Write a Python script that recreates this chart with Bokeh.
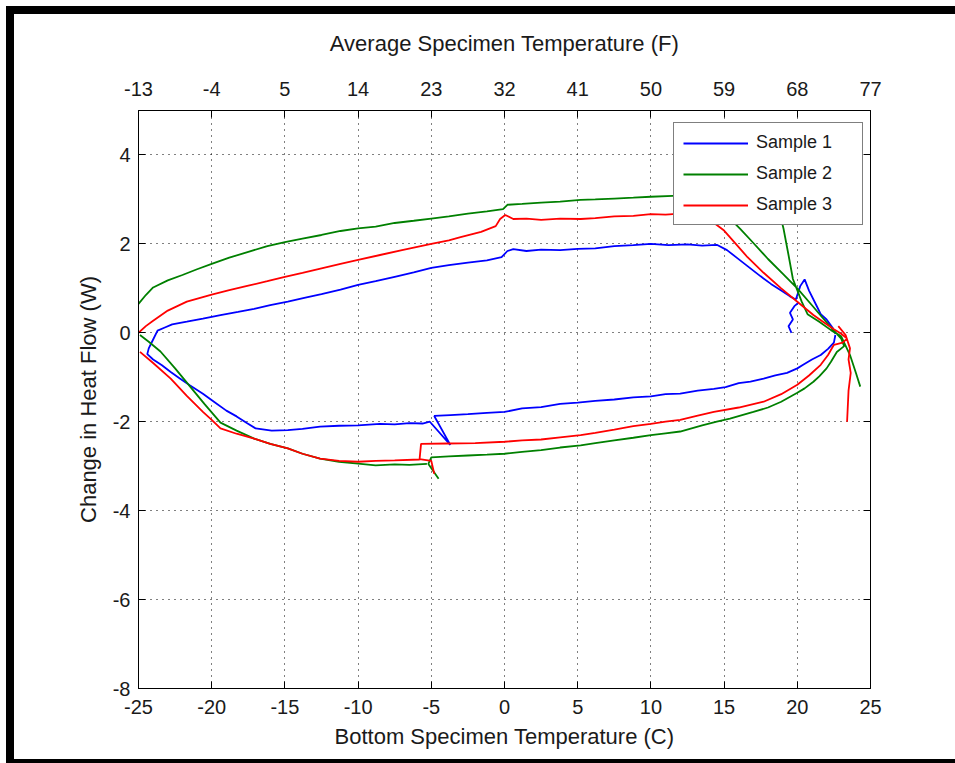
import numpy as np
from bokeh.plotting import figure
from bokeh.layouts import column, row
from bokeh.models import (LinearAxis, FixedTicker, Range1d, Legend, LegendItem, Div)
from bokeh.embed import file_html
from bokeh.resources import INLINE

nan = float("nan")

# ---------------- data ----------------
x_ticks = [-25, -20, -15, -10, -5, 0, 5, 10, 15, 20, 25]
f_labels = ["-13", "-4", "5", "14", "23", "32", "41", "50", "59", "68", "77"]
y_ticks = [-8, -6, -4, -2, 0, 2, 4]

s1_x = [19.6, 19.4, 19.7, 19.5, 19.8, 20.1, nan,
        22.6, 22.5, 22.1, 21.6, 21.0, 20.4, 20.0, 19.3, 18.5, 17.7, 16.8, 16.0, 15.1, 14.3,
        13.2, 12.0, 11.0, 10.0, 8.8, 7.5, 6.2, 5.0, 3.8, 2.5, 1.2, 0.0, -1.2, -2.5, -3.7,
        -4.8, -3.7, -5.1, -5.6, -6.5, -7.5, -8.5, -10.0, -11.3, -12.6, -13.8, -14.8, -15.9,
        -17.0, -17.6, -18.3, -19.0, -19.8, -20.6, -21.5, -22.2, -22.8, -23.4, -24.0, -24.4,
        -24.3, -24.0, -23.7, -23.2, -22.7, -21.7, -20.6, -19.4, -18.2, -17.1, -16.0, -14.8,
        -13.6, -12.5, -11.2, -10.0, -8.8, -7.5, -6.2, -5.0, -3.8, -2.5, -1.2, -0.2, 0.2, 0.6,
        1.5, 2.5, 3.8, 5.0, 6.2, 7.5, 8.8, 10.0, 11.2, 12.5, 13.5, 14.5, 15.2, 15.9, 16.6,
        17.5, 18.2, 18.9, 19.5, 19.9, 20.2, 20.5, 20.8, 21.3, 21.6, 22.0, 22.4, 22.6]
s1_y = [0.0, 0.15, 0.3, 0.45, 0.6, 0.68, nan,
        -0.05, -0.22, -0.36, -0.5, -0.6, -0.72, -0.8, -0.9, -0.96, -1.03, -1.1, -1.13, -1.22, -1.26,
        -1.3, -1.37, -1.38, -1.43, -1.45, -1.5, -1.53, -1.57, -1.6, -1.67, -1.7, -1.78, -1.8, -1.83, -1.85,
        -1.87, -2.52, -2.0, -2.04, -2.03, -2.06, -2.05, -2.08, -2.09, -2.11, -2.16, -2.19, -2.2,
        -2.15, -2.03, -1.88, -1.75, -1.56, -1.37, -1.18, -1.02, -0.88, -0.73, -0.6, -0.48,
        -0.35, -0.15, 0.05, 0.12, 0.19, 0.25, 0.32, 0.4, 0.47, 0.54, 0.62, 0.7,
        0.79, 0.87, 0.97, 1.08, 1.16, 1.26, 1.36, 1.46, 1.52, 1.58, 1.63, 1.7, 1.84, 1.88,
        1.84, 1.87, 1.86, 1.89, 1.9, 1.95, 1.97, 2.0, 1.97, 1.99, 1.96, 1.98, 1.86, 1.68, 1.5,
        1.27, 1.1, 0.95, 0.82, 0.75, 1.05, 1.2, 0.95, 0.62, 0.42, 0.3, 0.12, -0.02]

s2_x = [18.6, 19.06, 19.4, 19.7, 20.3, 20.7, 21.5, 22.3, 23.0, 23.6, 24.0, 24.3, nan,
        -25.0, -24.5, -24.0, -23.0, -22.0, -21.0, -20.0, -18.8, -17.5, -16.2, -15.0, -13.8,
        -12.5, -11.2, -10.0, -8.8, -7.5, -6.2, -5.0, -3.8, -2.5, -1.2, -0.1, 0.2, 1.2, 2.5,
        3.8, 5.2, 6.2, 7.5, 8.8, 10.0, 11.5, 13.0, 13.9, 15.0, 16.1, 17.0, 18.0, 19.0, 20.0,
        21.0, 21.8, 22.5, 23.0, 23.2,
        22.7, 22.3, 22.0, 21.5, 21.1, 20.5, 20.0, 18.9, 18.0, 17.0, 15.4, 14.5, 13.5, 12.0,
        11.0, 10.0, 8.8, 7.5, 6.2, 5.2, 3.8, 2.5, 1.2, 0.0, -1.2, -2.5, -3.8, -5.0, -5.2,
        -4.5, nan,
        -5.3, -6.5, -7.5, -8.8, -10.0, -11.3, -12.6, -13.8, -14.8, -16.0, -17.1, -18.3,
        -19.4, -20.5, -21.5, -22.5, -23.5, -24.3, -24.9]
s2_y = [2.95, 2.34, 1.75, 1.21, 0.7, 0.42, 0.25, 0.06, -0.08, -0.5, -0.9, -1.21, nan,
        0.65, 0.85, 1.02, 1.18, 1.3, 1.43, 1.55, 1.69, 1.82, 1.95, 2.04, 2.12,
        2.2, 2.29, 2.35, 2.39, 2.47, 2.52, 2.57, 2.62, 2.68, 2.73, 2.78, 2.88, 2.9, 2.93,
        2.95, 2.99, 3.0, 3.02, 3.04, 3.06, 3.08, 3.1, 3.08, 2.7, 2.34, 2.02, 1.66, 1.33, 1.0,
        0.62, 0.31, 0.05, -0.13, -0.3,
        -0.43, -0.65, -0.8, -0.98, -1.1, -1.25, -1.35, -1.55, -1.68, -1.78, -1.93, -2.0, -2.08, -2.22,
        -2.26, -2.3, -2.36, -2.42, -2.48, -2.53, -2.58, -2.64, -2.68, -2.72, -2.74, -2.76, -2.78, -2.8, -2.95,
        -3.28, nan,
        -2.95, -2.97, -2.96, -2.98, -2.94, -2.9, -2.83, -2.72, -2.6, -2.5, -2.38, -2.2,
        -2.02, -1.6, -1.2, -0.8, -0.42, -0.2, -0.05]

s3_x = [-25.0, -24.5, -24.0, -23.0, -21.7, -20.0, -18.8, -17.5, -16.2, -15.0, -13.8, -12.5,
        -11.2, -10.0, -8.5, -7.0, -5.0, -3.8, -3.0, -1.6, -0.6, -0.3, 0.05, 0.6, 1.5, 2.5,
        3.8, 5.2, 6.2, 7.5, 8.8, 10.0, 11.0, 12.0, 13.2, 14.0, 15.0, 15.8, 16.6, 17.7, 18.9,
        20.0, 21.1, 21.8, 22.5, 23.0, 23.4, 23.1,
        22.5, 22.1, 21.6, 20.8, 20.0, 18.9, 17.7, 16.0, 14.3, 13.2, 12.0, 11.0, 10.0, 8.8,
        7.5, 6.2, 5.2, 3.8, 2.5, 1.2, 0.0, -2.0, -3.9, -5.7, -5.8, -5.0, -4.8, nan,
        -5.8, -7.5, -8.8, -10.0, -11.3, -12.6, -13.8, -14.8, -16.0, -17.1, -18.3, -19.4,
        -20.0, -20.6, -21.7, -22.8, -24.0, -24.9, nan,
        22.8, 23.3, 23.6, 23.5, 23.65, 23.5, 23.45, 23.4]
s3_y = [0.0, 0.15, 0.27, 0.5, 0.7, 0.86, 0.96, 1.06, 1.16, 1.26, 1.35, 1.45,
        1.55, 1.64, 1.75, 1.86, 2.0, 2.08, 2.15, 2.27, 2.4, 2.56, 2.65, 2.56, 2.57, 2.54,
        2.57, 2.56, 2.58, 2.62, 2.63, 2.67, 2.66, 2.68, 2.64, 2.55, 2.3, 2.0, 1.7, 1.35, 1.0,
        0.7, 0.4, 0.24, 0.08, -0.02, -0.13, -0.22,
        -0.27, -0.5, -0.72, -0.96, -1.17, -1.38, -1.55, -1.68, -1.78, -1.86, -1.96, -2.0, -2.05, -2.1,
        -2.18, -2.25, -2.3, -2.35, -2.4, -2.42, -2.45, -2.48, -2.49, -2.5, -2.84, -2.88, -3.17, nan,
        -2.85, -2.87, -2.88, -2.9, -2.88, -2.83, -2.72, -2.6, -2.5, -2.38, -2.27, -2.15,
        -1.96, -1.78, -1.42, -1.03, -0.68, -0.43, nan,
        0.15, -0.05, -0.35, -0.6, -0.9, -1.3, -1.65, -2.0]

series = [("Sample 1", s1_x, s1_y, "#0000FF"),
          ("Sample 2", s2_x, s2_y, "#008000"),
          ("Sample 3", s3_x, s3_y, "#FF0000")]

FONT = "Liberation Sans"
TXT = "#1a1a1a"

# figure sits inside a black frame: window frame left 138, top 110
OFF_X, OFF_Y = 14, 14
W, H = 955 - OFF_X, 763 - OFF_Y - 4

p = figure(width=W, height=H, output_backend="svg", toolbar_location=None,
           x_range=Range1d(-25, 25), y_range=Range1d(-8, 5),
           min_border_left=138 - OFF_X, min_border_right=(OFF_X + W) - 870,
           min_border_top=110 - OFF_Y, min_border_bottom=(OFF_Y + H) - 688)
p.background_fill_color = "white"
p.border_fill_color = "white"
p.outline_line_color = "black"
p.outline_line_width = 1

def style_axis(ax):
    ax.axis_line_color = "black"
    ax.major_tick_line_color = "black"
    ax.major_tick_in = 7
    ax.major_tick_out = 0
    ax.minor_tick_line_color = None
    ax.major_label_text_font = FONT
    ax.major_label_text_font_size = "20px"
    ax.major_label_text_color = TXT
    ax.axis_label_text_font = FONT
    ax.axis_label_text_font_size = "22px"
    ax.axis_label_text_font_style = "normal"
    ax.axis_label_text_color = TXT

xb = p.xaxis[0]
xb.ticker = FixedTicker(ticks=x_ticks)
xb.major_label_overrides = {t: str(t) for t in x_ticks}
xb.axis_label = "Bottom Specimen Temperature (C)"
style_axis(xb)
xb.major_label_standoff = 11
xb.axis_label_standoff = 7

yl = p.yaxis[0]
yl.ticker = FixedTicker(ticks=y_ticks)
yl.major_label_overrides = {t: str(t) for t in y_ticks}
yl.axis_label = "Change in Heat Flow (W)"
style_axis(yl)
yl.major_label_standoff = 8
yl.axis_label_standoff = 9

xt = LinearAxis(ticker=FixedTicker(ticks=x_ticks),
                major_label_overrides={t: l for t, l in zip(x_ticks, f_labels)},
                axis_label="Average Specimen Temperature (F)")
style_axis(xt)
xt.major_label_standoff = 15
xt.axis_label_standoff = 23
p.add_layout(xt, "above")

yr = LinearAxis(ticker=FixedTicker(ticks=y_ticks),
                major_label_overrides={t: "" for t in y_ticks})
style_axis(yr)
p.add_layout(yr, "right")

for g in (p.xgrid[0], p.ygrid[0]):
    g.grid_line_color = "black"
    g.grid_line_alpha = 1.0
    g.grid_line_dash = "1 5"
    g.grid_line_width = 1
p.xgrid[0].ticker = FixedTicker(ticks=x_ticks)
p.ygrid[0].ticker = FixedTicker(ticks=y_ticks)

items = []
for name, xs, ys, col in series:
    r = p.line(np.array(xs, dtype=float), np.array(ys, dtype=float),
               line_color=col, line_width=1.8)
    items.append(LegendItem(label=name, renderers=[r]))

leg = Legend(items=items, location=(535, 463))
leg.label_text_font = FONT
leg.label_text_font_size = "18px"
leg.label_text_color = TXT
leg.glyph_width = 65
leg.glyph_height = 20
leg.label_height = 20
leg.label_width = 97
leg.label_standoff = 8
leg.padding = 9
leg.spacing = 10
leg.margin = 0
leg.border_line_color = "black"
leg.border_line_width = 1
leg.background_fill_color = "white"
leg.background_fill_alpha = 1.0
p.add_layout(leg, "center")

HIDE = {"overflow": "hidden"}
BLACK = {"background-color": "black", "overflow": "hidden"}
top_bar = Div(text="", width=955 - 6, height=8, styles=BLACK, margin=0)
left_bar = Div(text="", width=8, height=H, styles=BLACK, margin=0)
bottom_bar = Div(text="", width=955 - 6, height=4, styles=BLACK, margin=0)
page = column(top_bar, row(left_bar, p, spacing=0, styles=HIDE), bottom_bar,
              spacing=0, margin=(6, 0, 0, 6), styles=HIDE)

open("out.html", "w").write(file_html(page, INLINE))
